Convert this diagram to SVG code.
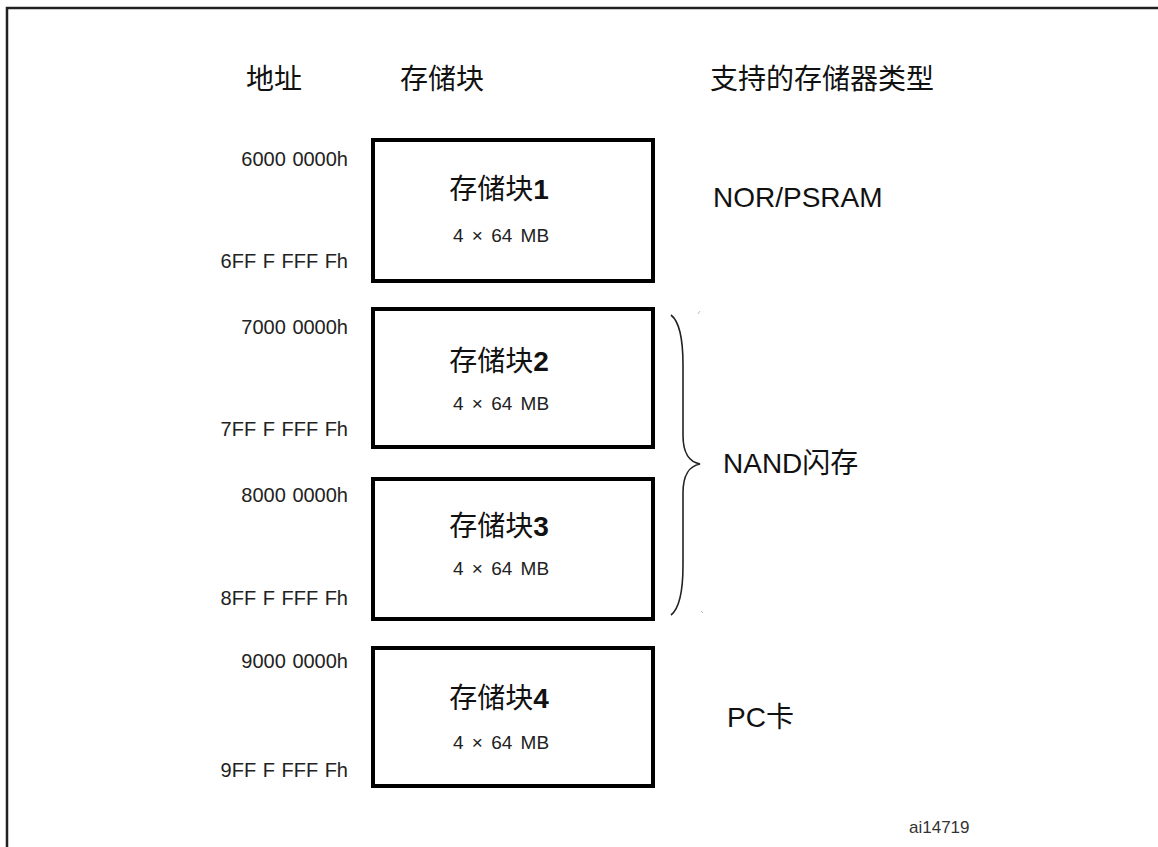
<svg xmlns="http://www.w3.org/2000/svg" width="1158" height="847" viewBox="0 0 1158 847">
<style>
.frame{fill:none;stroke:#222;stroke-width:2.5}
.box{fill:#fff;stroke:#000;stroke-width:4}
.hdr{font-family:"Liberation Sans","Noto Sans CJK SC",sans-serif;font-size:28px;fill:#111;text-anchor:middle}
.addr{font-family:"Liberation Sans",Arial,sans-serif;font-size:20px;fill:#222;text-anchor:end;word-spacing:1px}
.title{font-family:"Liberation Sans","Noto Sans CJK SC",sans-serif;font-size:28px;fill:#111;text-anchor:middle}
.title tspan{font-weight:bold}
.size{font-family:"Liberation Sans",Arial,sans-serif;font-size:19px;fill:#222;text-anchor:middle;word-spacing:3px}
.type{font-family:"Liberation Sans","Noto Sans CJK SC",sans-serif;font-size:28px;fill:#111}
.ref{font-family:"Liberation Sans",Arial,sans-serif;font-size:17px;fill:#333}
.brace{fill:none;stroke:#222;stroke-width:1.6}
</style>
<rect width="1158" height="847" fill="#fff"/>
<rect class="frame" x="7" y="8" width="1170" height="860"/>
<g id="headers">
<text class="hdr" x="274" y="89">地址</text>
<text class="hdr" x="442" y="89">存储块</text>
<text class="hdr" x="822" y="89">支持的存储器类型</text>
</g>
<g id="bank1">
<rect class="box" x="373" y="140" width="280" height="141"/>
<text class="title" x="499" y="199">存储块<tspan>1</tspan></text>
<text class="size" x="501" y="242">4 × 64 MB</text>
<text class="addr" x="348" y="166">6000 0000h</text>
<text class="addr" x="348" y="268">6FF F FFF Fh</text>
</g>
<g id="bank2">
<rect class="box" x="373" y="309" width="280" height="138"/>
<text class="title" x="499" y="371">存储块<tspan>2</tspan></text>
<text class="size" x="501" y="410">4 × 64 MB</text>
<text class="addr" x="348" y="334">7000 0000h</text>
<text class="addr" x="348" y="436">7FF F FFF Fh</text>
</g>
<g id="bank3">
<rect class="box" x="373" y="479" width="280" height="140"/>
<text class="title" x="499" y="536">存储块<tspan>3</tspan></text>
<text class="size" x="501" y="575">4 × 64 MB</text>
<text class="addr" x="348" y="502">8000 0000h</text>
<text class="addr" x="348" y="605">8FF F FFF Fh</text>
</g>
<g id="bank4">
<rect class="box" x="373" y="648" width="280" height="138"/>
<text class="title" x="499" y="708">存储块<tspan>4</tspan></text>
<text class="size" x="501" y="749">4 × 64 MB</text>
<text class="addr" x="348" y="668">9000 0000h</text>
<text class="addr" x="348" y="777">9FF F FFF Fh</text>
</g>
<g id="types">
<text class="type" x="713" y="207">NOR/PSRAM</text>
<text class="type" x="723" y="473">NAND闪存</text>
<text class="type" x="727" y="727">PC卡</text>
</g>
<g id="connectors">
<path class="brace" d="M671,315 C680,322 683,340 683,365 L683,435 C683,455 690,462 700,464 C690,466 683,473 683,493 L683,565 C683,590 680,608 671,615"/>
<line x1="698" y1="314" x2="700" y2="311" stroke="#bbb" stroke-width="1"/>
<line x1="701" y1="611" x2="703" y2="613" stroke="#bbb" stroke-width="1"/>
</g>
<text class="ref" x="909" y="833">ai14719</text>
</svg>
